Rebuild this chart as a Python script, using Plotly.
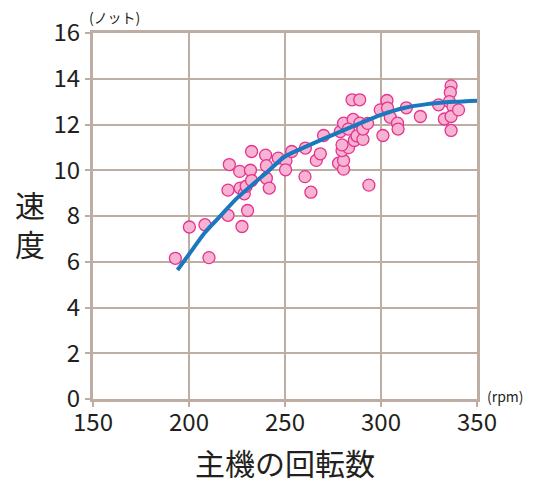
import plotly.graph_objects as go

# Scatter data: engine rpm vs speed (knots)
rpm = [192.9, 210.4, 200.2, 208.3, 220.3, 227.6, 230.5, 220.3, 221.0, 226.4,
       232.6, 232.0, 226.6, 228.8, 229.8, 232.6, 239.9, 240.3, 240.3, 241.8,
       246.5, 250.5, 250.3, 253.5, 260.4, 263.5, 260.6, 266.3, 268.4, 270.1,
       277.9, 280.5, 280.5, 279.7, 283.1, 279.7, 278.8, 280.5, 285.5, 283.0,
       286.1, 287.5, 289.0, 290.6, 290.6, 293.0, 284.9, 288.9, 293.7, 299.6,
       303.1, 303.4, 304.8, 301.0, 308.6, 308.9, 313.2, 320.5, 330.0, 333.0,
       336.5, 336.1, 335.6, 337.5, 336.5, 340.4, 336.5]
speed = [6.15, 6.18, 7.52, 7.62, 8.03, 7.54, 8.24, 9.13, 10.25, 9.95,
         10.82, 10.0, 9.22, 8.97, 9.30, 9.55, 10.66, 10.2, 9.65, 9.22,
         10.53, 10.41, 10.02, 10.82, 9.72, 9.04, 10.97, 10.43, 10.72, 11.52,
         10.31, 10.05, 10.43, 10.86, 10.99, 11.11, 11.69, 12.06, 12.22, 11.8,
         11.3, 11.5, 12.06, 11.35, 11.8, 12.05, 13.08, 13.08, 9.35, 12.64,
         13.05, 12.72, 12.32, 11.52, 12.06, 11.8, 12.73, 12.35, 12.86, 12.24,
         13.69, 13.40, 13.0, 12.79, 12.35, 12.64, 11.74]

# Trend curve
curve_rpm = [194, 201, 208, 216, 225, 234, 241, 250, 263, 277, 289, 300, 312, 324, 338, 350]
curve_speed = [5.64, 6.44, 7.25, 7.97, 8.78, 9.44, 9.94, 10.6, 11.11, 11.62, 12.05, 12.42, 12.72, 12.89, 12.99, 13.04]

x_ticks = [150, 200, 250, 300, 350]
y_ticks = [0, 2, 4, 6, 8, 10, 12, 14, 16]

GRID = "#BDADA2"
FONT = "Noto Sans CJK JP"

fig = go.Figure()
fig.add_trace(go.Scatter(
    x=rpm, y=speed, mode="markers",
    marker=dict(size=12, color="#F6B3D2", line=dict(color="#E6338F", width=1.3)),
    hoverinfo="skip", showlegend=False,
))
fig.add_trace(go.Scatter(
    x=curve_rpm, y=curve_speed, mode="lines",
    line=dict(color="#1B77BE", width=4, shape="spline", smoothing=0.8),
    hoverinfo="skip", showlegend=False,
))

axis_common = dict(
    showgrid=True, gridcolor=GRID, gridwidth=2,
    showline=True, linecolor=GRID, linewidth=3, mirror=True,
    ticks="outside", ticklen=5, tickcolor=GRID, tickwidth=2,
    tickfont=dict(family=FONT, size=24, color="#231F20"),
    zeroline=False,
)

fig.update_layout(
    width=534, height=482,
    margin=dict(l=93, r=57, t=33, b=83),
    paper_bgcolor="white", plot_bgcolor="white",
    xaxis=dict(range=[150, 350], tickvals=x_ticks, ticktext=[str(v) for v in x_ticks],
               ticklabelstandoff=-5, **axis_common),
    yaxis=dict(range=[0, 16], tickvals=y_ticks, ticktext=[str(v) for v in y_ticks], **axis_common),
    annotations=[
        dict(text="主機の回転数", xref="paper", yref="paper", x=0.5, y=-0.172,
             xanchor="center", yanchor="middle", showarrow=False,
             font=dict(family=FONT, size=30, color="#231F20")),
        dict(text="速<br>度", xref="paper", yref="paper", x=-0.164, y=0.48,
             xanchor="center", yanchor="middle", showarrow=False,
             font=dict(family=FONT, size=30, color="#231F20")),
        dict(text="(ノット)", xref="paper", yref="paper", x=-0.015, y=1.0, yshift=4,
             xanchor="left", yanchor="bottom", showarrow=False,
             font=dict(family=FONT, size=14, color="#231F20")),
        dict(text="(rpm)", xref="paper", yref="paper", x=1.02, y=0.0, yshift=3,
             xanchor="left", yanchor="middle", showarrow=False,
             font=dict(family=FONT, size=14, color="#231F20")),
    ],
)

fig.write_html("out.html", config={"displayModeBar": False},
               post_script="document.body.style.margin='0';document.body.style.padding='0';")
